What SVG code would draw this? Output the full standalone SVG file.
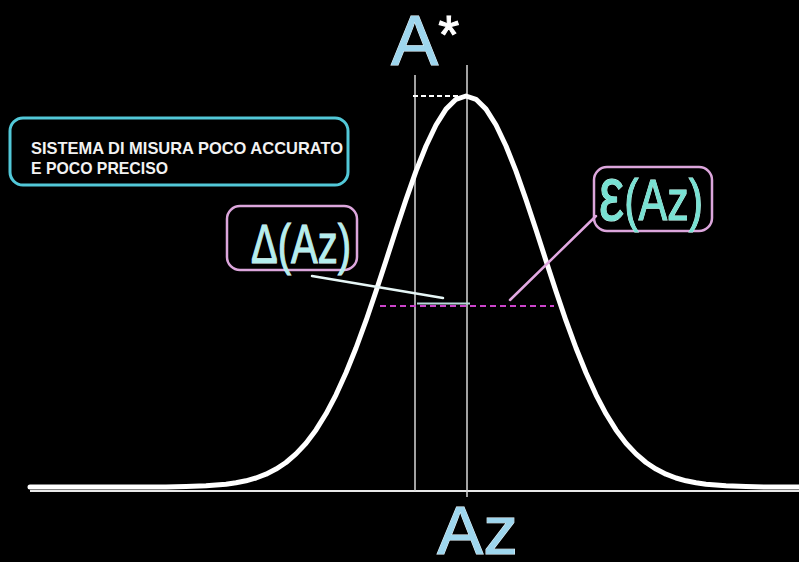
<svg xmlns="http://www.w3.org/2000/svg" width="799" height="562" viewBox="0 0 799 562">
  <style>
    .big { font-family: "Liberation Sans", Arial, sans-serif; stroke-width: 1; paint-order: stroke; }
    .guide { stroke: #d8d8d8; stroke-width: 1.5; fill: none; }
    .pinkbox { fill: none; stroke: #dca6dc; stroke-width: 2.5; }
  </style>
  <rect x="0" y="0" width="799" height="562" fill="#000"/>

  <g id="axis">
    <line x1="30" y1="491" x2="799" y2="491" stroke="#e8e8e8" stroke-width="1.8"/>
    <line class="guide" x1="415" y1="75" x2="415" y2="491"/>
    <line class="guide" x1="467" y1="65" x2="467" y2="497"/>
    <line x1="413" y1="96" x2="466" y2="96" stroke="#ffffff" stroke-width="2" stroke-dasharray="5,3"/>
  </g>

  <g id="curve">
    <polyline fill="none" stroke="#ffffff" stroke-width="5" stroke-linejoin="round" stroke-linecap="round"
      points="30,487 166,487 186,486.5 206,485.8 216,485.1 226,484.2 236,482.8 246,480.8 256,478 266,474.2 276,469.1 286,462.5 296,453.9 306,443.2 316,429.9 326,413.8 336,394.8 346,372.8 356,348 366,320.7 376,291.3 386,260.7 396,229.8 406,199.6 416,171.2 426,146 436,125 446,109.1 456,99.3 466,96 476,99.3 486,109.1 496,125 506,146 516,171.2 526,199.6 536,229.8 546,260.7 556,291.3 566,320.7 576,348 586,372.8 596,394.8 606,413.8 616,429.9 626,443.2 636,453.9 646,462.5 656,469.1 666,474.2 676,478 686,480.8 696,482.8 706,484.2 716,485.1 726,485.8 746,486.5 766,487 799,487"/>
  </g>

  <g id="levels">
    <line x1="380" y1="306" x2="554" y2="306" stroke="#cc44cc" stroke-width="2" stroke-dasharray="6,4"/>
    <line x1="417" y1="303.5" x2="470" y2="303.5" stroke="#b8d8d8" stroke-width="2"/>
  </g>

  <g id="connectors">
    <line x1="312" y1="276" x2="443" y2="298" stroke="#e6f6f6" stroke-width="2.5" stroke-linecap="round"/>
    <line x1="596" y1="216" x2="510" y2="300" stroke="#e2a8e2" stroke-width="2.5" stroke-linecap="round"/>
  </g>

  <g id="title-box">
    <rect x="10" y="118" width="338" height="67" rx="13" ry="13" fill="none" stroke="#52c8d8" stroke-width="3"/>
    <text x="31" y="154" font-family="Liberation Sans, Arial, sans-serif" font-size="17" font-weight="bold" fill="#f2f2f2" textLength="312" lengthAdjust="spacingAndGlyphs">SISTEMA DI MISURA POCO ACCURATO</text>
    <text x="31" y="174" font-family="Liberation Sans, Arial, sans-serif" font-size="17" font-weight="bold" fill="#f2f2f2" textLength="137" lengthAdjust="spacingAndGlyphs">E POCO PRECISO</text>
  </g>

  <g id="label-astar">
    <text class="big" x="391" y="65" font-size="71" fill="#9ed6ee" stroke="#e8f8ff">A<tspan font-size="54" dy="-12" fill="#ffffff" stroke="#ffffff">*</tspan></text>
  </g>

  <g id="label-az">
    <text class="big" x="437" y="554" font-size="68" fill="#9ed6ee" stroke="#e8f8ff" textLength="81" lengthAdjust="spacingAndGlyphs">Az</text>
  </g>

  <g id="label-delta">
    <rect class="pinkbox" x="227" y="206" width="130" height="64" rx="13" ry="13"/>
    <text class="big" x="251" y="263" font-size="56" fill="#b4eeee" stroke="#e8ffff" textLength="100" lengthAdjust="spacingAndGlyphs">Δ(Az)</text>
  </g>

  <g id="label-epsilon">
    <rect class="pinkbox" x="594" y="167" width="118" height="64" rx="13" ry="13"/>
    <text class="big" x="599" y="220" font-size="58" fill="#78e2d4" stroke="#c8fff4" textLength="104" lengthAdjust="spacingAndGlyphs"><tspan font-size="76">ε</tspan>(Az)</text>
  </g>
</svg>
